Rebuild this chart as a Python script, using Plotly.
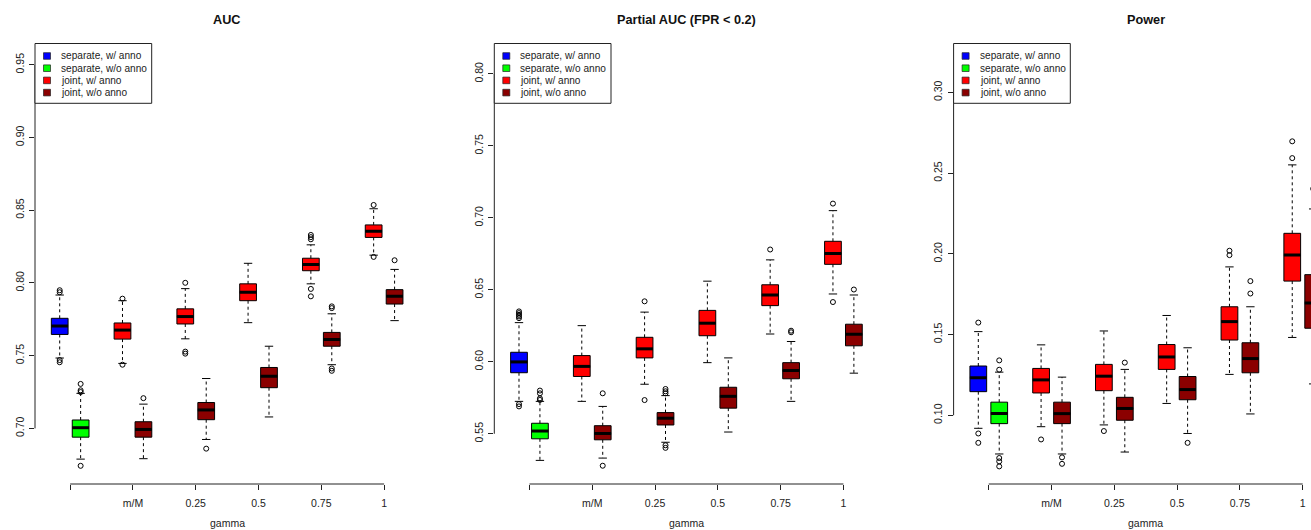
import plotly.graph_objects as go

W, H = 1311, 530

# ---------------- data ----------------
series_names = ["separate, w/ anno", "separate, w/o anno", "joint, w/ anno", "joint, w/o anno"]
series_colors = ["#0000FF", "#00FF00", "#FF0000", "#8B0000"]
gamma_labels = ["", "m/M", "0.25", "0.5", "0.75", "1"]
# series index of each box (two boxes per gamma group)
box_series = [0, 1, 2, 3, 2, 3, 2, 3, 2, 3, 2, 3]

panel_titles = ["AUC", "Partial AUC (FPR < 0.2)", "Power"]
x_title = "gamma"

auc_ticks = [0.70, 0.75, 0.80, 0.85, 0.90, 0.95]
auc_q1 = [0.7646, 0.6940, 0.7614, 0.6940, 0.7718, 0.7060, 0.7878, 0.7280, 0.8084, 0.7565, 0.8313, 0.7855]
auc_med = [0.7704, 0.7005, 0.7676, 0.6993, 0.7769, 0.7127, 0.7936, 0.7359, 0.8126, 0.7612, 0.8355, 0.7908]
auc_q3 = [0.7757, 0.7058, 0.7725, 0.7046, 0.7822, 0.7178, 0.7994, 0.7419, 0.8170, 0.7660, 0.8399, 0.7954]
auc_lo = [0.7484, 0.6789, 0.7447, 0.6792, 0.7616, 0.6924, 0.7727, 0.7079, 0.7994, 0.7438, 0.8191, 0.7741]
auc_hi = [0.7917, 0.7241, 0.7878, 0.7167, 0.7961, 0.7343, 0.8135, 0.7565, 0.8262, 0.7788, 0.8510, 0.8093]
auc_out = [
    [0.7950, 0.7936, 0.7470, 0.7455],
    [0.7306, 0.7262, 0.7250, 0.6743],
    [0.7892, 0.7438],
    [0.7208],
    [0.8001, 0.7528, 0.7514],
    [0.6861],
    [],
    [],
    [0.8330, 0.8315, 0.8300, 0.7959, 0.7908],
    [0.7839, 0.7827, 0.7412, 0.7396],
    [0.8536, 0.8179],
    [0.8156],
]

pauc_ticks = [0.55, 0.60, 0.65, 0.70, 0.75, 0.80]
pauc_q1 = [0.5924, 0.5465, 0.5898, 0.5458, 0.6027, 0.5561, 0.6181, 0.5678, 0.6390, 0.5882, 0.6677, 0.6111]
pauc_med = [0.5999, 0.5519, 0.5968, 0.5502, 0.6090, 0.5608, 0.6268, 0.5760, 0.6464, 0.5940, 0.6752, 0.6191]
pauc_q3 = [0.6066, 0.5573, 0.6043, 0.5556, 0.6170, 0.5647, 0.6357, 0.5823, 0.6535, 0.5994, 0.6837, 0.6261]
pauc_lo = [0.5725, 0.5315, 0.5725, 0.5331, 0.5844, 0.5441, 0.5994, 0.5512, 0.6193, 0.5725, 0.6471, 0.5921]
pauc_hi = [0.6272, 0.5725, 0.6251, 0.5690, 0.6345, 0.5765, 0.6560, 0.6027, 0.6708, 0.6141, 0.7050, 0.6464]
pauc_out = [
    [0.6350, 0.6338, 0.6326, 0.6315, 0.6303, 0.5706, 0.5690],
    [0.5800, 0.5781, 0.5746, 0.5735],
    [],
    [0.5781, 0.5278],
    [0.6420, 0.5734],
    [0.5811, 0.5795, 0.5781, 0.5420, 0.5402],
    [],
    [],
    [0.6780],
    [0.6216, 0.6205],
    [0.7099, 0.6415],
    [0.6502],
]

power_ticks = [0.10, 0.15, 0.20, 0.25, 0.30]
power_q1 = [0.1146, 0.0948, 0.1138, 0.0948, 0.1152, 0.0969, 0.1284, 0.1096, 0.1466, 0.1263, 0.1831, 0.1539]
power_med = [0.1232, 0.1010, 0.1219, 0.1010, 0.1242, 0.1042, 0.1361, 0.1159, 0.1580, 0.1351, 0.1992, 0.1695]
power_q3 = [0.1305, 0.1081, 0.1290, 0.1081, 0.1315, 0.1111, 0.1438, 0.1240, 0.1672, 0.1449, 0.2127, 0.1871]
power_lo = [0.0919, 0.0760, 0.0929, 0.0760, 0.0940, 0.0772, 0.1073, 0.0887, 0.1253, 0.1008, 0.1482, 0.1194]
power_hi = [0.1518, 0.1267, 0.1436, 0.1236, 0.1522, 0.1284, 0.1618, 0.1418, 0.1919, 0.1672, 0.2551, 0.2278]
power_out = [
    [0.1574, 0.0887, 0.0829],
    [0.1340, 0.1282, 0.0735, 0.0714, 0.0683],
    [0.0850],
    [0.0739, 0.0699],
    [0.0902],
    [0.1326],
    [],
    [0.0829],
    [0.2019, 0.1992],
    [0.1831, 0.1754],
    [0.2697, 0.2593],
    [0.2403],
]

# ---------------- layout geometry ----------------
FONT = "Liberation Sans, Arial, Helvetica, sans-serif"
TXT = "#222222"
PLOT_TOP = 43.5
PLOT_BOTTOM = 484.0
PANEL_LEFT = [35.0, 494.3, 953.6]
UNIT_PX = 20.93
X_LO, X_SPAN = -0.18, 18.36
Y_RANGES = [(0.6618, 0.9646), (0.5151, 0.8211), (0.0574, 0.3303)]
BOX_W = 0.8
CAP_W = 0.4


def px_x(p):
    return p / W


def px_y(p):
    return 1 - p / H


panels = [
    (auc_ticks, auc_q1, auc_med, auc_q3, auc_lo, auc_hi, auc_out),
    (pauc_ticks, pauc_q1, pauc_med, pauc_q3, pauc_lo, pauc_hi, pauc_out),
    (power_ticks, power_q1, power_med, power_q3, power_lo, power_hi, power_out),
]

n_groups = len(gamma_labels)
positions = [3 * (i // 2) + (i % 2) + 1 for i in range(2 * n_groups)]
tick_pos = [3 * g + 1.5 for g in range(n_groups)]

fig = go.Figure()
shapes = []
annotations = []
layout_axes = {}

for p, (yt, q1, med, q3, lo, hi, outs) in enumerate(panels):
    sfx = "" if p == 0 else str(p + 1)
    xa, ya = "x" + sfx, "y" + sfx
    left = PANEL_LEFT[p]
    right = min(left + X_SPAN * UNIT_PX, W)
    x_hi = X_LO + (right - left) / UNIT_PX

    # boxes
    for i, pos in enumerate(positions):
        fig.add_trace(go.Box(
            x=[pos], q1=[q1[i]], median=[med[i]], q3=[q3[i]],
            lowerfence=[q1[i]], upperfence=[q3[i]],
            width=BOX_W, whiskerwidth=0, orientation="v",
            fillcolor=series_colors[box_series[i]],
            line=dict(color="black", width=1),
            boxpoints=False, hoverinfo="skip",
            xaxis=xa, yaxis=ya, showlegend=False,
        ))

    # whiskers (dashed), caps, medians
    wx, wy, cx, cy, mx, my = [], [], [], [], [], []
    ox, oy = [], []
    for i, pos in enumerate(positions):
        wx += [pos, pos, None, pos, pos, None]
        wy += [q3[i], hi[i], None, q1[i], lo[i], None]
        cx += [pos - CAP_W / 2, pos + CAP_W / 2, None, pos - CAP_W / 2, pos + CAP_W / 2, None]
        cy += [hi[i], hi[i], None, lo[i], lo[i], None]
        mx += [pos - BOX_W / 2, pos + BOX_W / 2, None]
        my += [med[i], med[i], None]
        for v in outs[i]:
            ox.append(pos)
            oy.append(v)
    fig.add_trace(go.Scatter(x=wx, y=wy, mode="lines", line=dict(color="black", width=1, dash="3px,3px"),
                             xaxis=xa, yaxis=ya, hoverinfo="skip", showlegend=False))
    fig.add_trace(go.Scatter(x=cx, y=cy, mode="lines", line=dict(color="black", width=1),
                             xaxis=xa, yaxis=ya, hoverinfo="skip", showlegend=False))
    fig.add_trace(go.Scatter(x=mx, y=my, mode="lines", line=dict(color="black", width=3),
                             xaxis=xa, yaxis=ya, hoverinfo="skip", showlegend=False))
    fig.add_trace(go.Scatter(x=ox, y=oy, mode="markers",
                             marker=dict(symbol="circle-open", size=5, color="black",
                                         line=dict(width=1, color="black")),
                             xaxis=xa, yaxis=ya, hoverinfo="skip", showlegend=False))

    dom_x = [px_x(left), px_x(right)]
    dom_y = [px_y(PLOT_BOTTOM), px_y(PLOT_TOP)]
    layout_axes["xaxis" + sfx] = dict(
        domain=dom_x, range=[X_LO, x_hi], anchor=ya, automargin=False,
        showline=False, showgrid=False, zeroline=False,
        tickmode="array", tickvals=tick_pos, ticktext=gamma_labels,
        ticks="outside", ticklen=5, tickwidth=1, tickcolor="#222",
        tickfont=dict(family=FONT, size=10.5, color=TXT), ticklabelstandoff=4,
    )
    layout_axes["yaxis" + sfx] = dict(
        domain=dom_y, range=list(Y_RANGES[p]), anchor=xa, automargin=False,
        showline=False, showgrid=False, zeroline=False,
        tickmode="array", tickvals=yt, ticktext=["%.2f" % v for v in yt],
        ticks="outside", ticklen=5, tickwidth=1, tickcolor="#222", tickangle=-90,
        tickfont=dict(family=FONT, size=10.5, color=TXT), ticklabelstandoff=1,
    )

    # R-style axis lines (span first..last tick)
    shapes.append(dict(type="line", xref=xa + " domain", x0=0, x1=0, yref=ya,
                       y0=yt[0], y1=yt[-1], line=dict(color="#222", width=1)))
    shapes.append(dict(type="line", xref=xa, x0=tick_pos[0], x1=tick_pos[-1], yref=ya + " domain",
                       y0=0, y1=0, line=dict(color="#222", width=1)))

    # titles
    center = (left + left + X_SPAN * UNIT_PX) / 2
    annotations.append(dict(text="<b>%s</b>" % panel_titles[p], xref="paper", yref="paper",
                            x=px_x(center), y=px_y(20.3), xanchor="center", yanchor="middle",
                            showarrow=False, font=dict(family=FONT, size=12.7, color="#111")))
    annotations.append(dict(text=x_title, xref="paper", yref="paper",
                            x=px_x(center), y=px_y(522.5), xanchor="center", yanchor="middle",
                            showarrow=False, font=dict(family=FONT, size=10.5, color=TXT)))

    # legend (R-style, top-left of plot region)
    LEG_W, LEG_H = 116.7, 59.8
    shapes.append(dict(type="rect", xref="paper", yref="paper",
                       x0=px_x(left), x1=px_x(left + LEG_W), y0=px_y(PLOT_TOP + LEG_H), y1=px_y(PLOT_TOP),
                       line=dict(color="#222", width=1), fillcolor="white"))
    for k, name in enumerate(series_names):
        cy_px = PLOT_TOP + 12.5 + 12.2 * k
        shapes.append(dict(type="rect", xref="paper", yref="paper",
                           x0=px_x(left + 8.5), x1=px_x(left + 15.5),
                           y0=px_y(cy_px + 3.3), y1=px_y(cy_px - 3.3),
                           line=dict(color="#222", width=0.7), fillcolor=series_colors[k]))
        annotations.append(dict(text=name, xref="paper", yref="paper",
                                x=px_x(left + 24.0), y=px_y(cy_px), xanchor="left", yanchor="middle",
                                showarrow=False, font=dict(family=FONT, size=10.1, color=TXT)))

fig.update_layout(
    width=W, height=H, margin=dict(l=0, r=0, t=0, b=0),
    paper_bgcolor="white", plot_bgcolor="white",
    showlegend=False, boxmode="overlay",
    shapes=shapes, annotations=annotations,
    **layout_axes,
)

fig.write_html("out.html", config={"displayModeBar": False, "staticPlot": True},
               post_script="document.body.style.margin='0';document.body.style.overflow='hidden';")
